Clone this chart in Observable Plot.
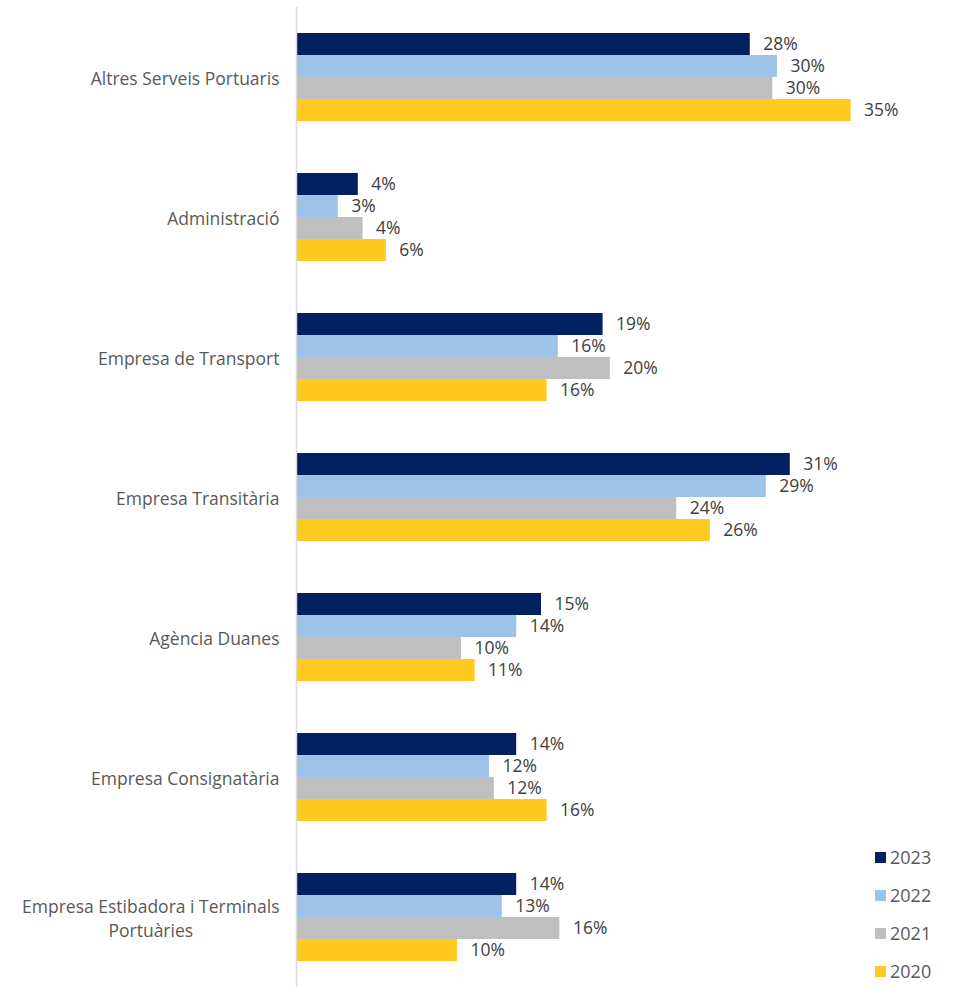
<!DOCTYPE html>
<html>
<head>
<meta charset="utf-8">
<script src="https://cdn.jsdelivr.net/npm/d3@7"></script>
<script src="https://cdn.jsdelivr.net/npm/@observablehq/plot@0.6"></script>
<style>
  html, body { margin: 0; padding: 0; background: #fff; }
  #wrap { position: relative; width: 953px; height: 987px; }
  #legend { position: absolute; left: 875px; top: 838px; font-family: 'Open Sans', sans-serif; font-size: 18px; line-height: 1; color: #595959; }
  .item { display: flex; align-items: center; height: 38px; }
  .sw { width: 11px; height: 11px; margin-right: 4px; }
</style>
</head>
<body>
<div id="wrap"></div>
<script>
const categories = [
  "Altres Serveis Portuaris",
  "Administració",
  "Empresa de Transport",
  "Empresa Transitària",
  "Agència Duanes",
  "Empresa Consignatària",
  "Empresa Estibadora i Terminals\nPortuàries"
];
const years = ["2023", "2022", "2021", "2020"];
const colors = ["#002060", "#9DC3E6", "#BFBFBF", "#FFC91F"];
const v2023 = [28.3, 3.8, 19.1, 30.8, 15.25, 13.7, 13.7];
const v2022 = [30.0, 2.55, 16.3, 29.3, 13.7, 12.0, 12.8];
const v2021 = [29.7, 4.1, 19.55, 23.7, 10.25, 12.3, 16.4];
const v2020 = [34.6, 5.55, 15.6, 25.8, 11.1, 15.6, 10.0];
const series = [v2023, v2022, v2021, v2020];

const data = categories.flatMap((c, i) =>
  years.map((y, j) => ({category: c, year: y, value: series[j][i]}))
);

const chart = Plot.plot({
  width: 953,
  height: 987,
  marginLeft: 297,
  marginRight: 16,
  marginTop: 7,
  marginBottom: 0,
  x: {domain: [0, 40], axis: null},
  y: {domain: years, paddingInner: 0, paddingOuter: 1.1, axis: null},
  fy: {domain: categories, padding: 0},
  color: {domain: years, range: colors},
  style: {fontFamily: "'Open Sans', sans-serif", fontSize: "17.5px", color: "#595959", background: "white"},
  marks: [
    Plot.barX(data, {x: "value", y: "year", fy: "category", fill: "year"}),
    Plot.ruleX([0], {stroke: "#d9d9d9", strokeWidth: 1.5, dx: -1}),
    Plot.text(data, {
      x: "value", y: "year", fy: "category",
      text: d => Math.round(d.value) + "%",
      textAnchor: "start", dx: 13, fill: "#404040", fontSize: 17.5
    }),
    Plot.axisFy({anchor: "left", tickSize: 0, tickPadding: 18, label: null, lineHeight: 1.35, fontSize: 17.5})
  ]
});

document.getElementById("wrap").appendChild(chart);

// center multi-line category labels
d3.select(chart).selectAll("text").each(function() {
  const tspans = this.querySelectorAll("tspan");
  if (tspans.length > 1) {
    const bb = this.getBBox();
    this.setAttribute("text-anchor", "middle");
    tspans.forEach(t => t.setAttribute("x", -bb.width / 2));
  }
});

const legend = document.createElement("div");
legend.id = "legend";
years.forEach((y, j) => {
  const it = document.createElement("div");
  it.className = "item";
  const sw = document.createElement("div");
  sw.className = "sw";
  sw.style.background = colors[j];
  const lab = document.createElement("span");
  lab.textContent = y;
  it.appendChild(sw);
  it.appendChild(lab);
  legend.appendChild(it);
});
document.getElementById("wrap").appendChild(legend);
</script>
</body>
</html>
